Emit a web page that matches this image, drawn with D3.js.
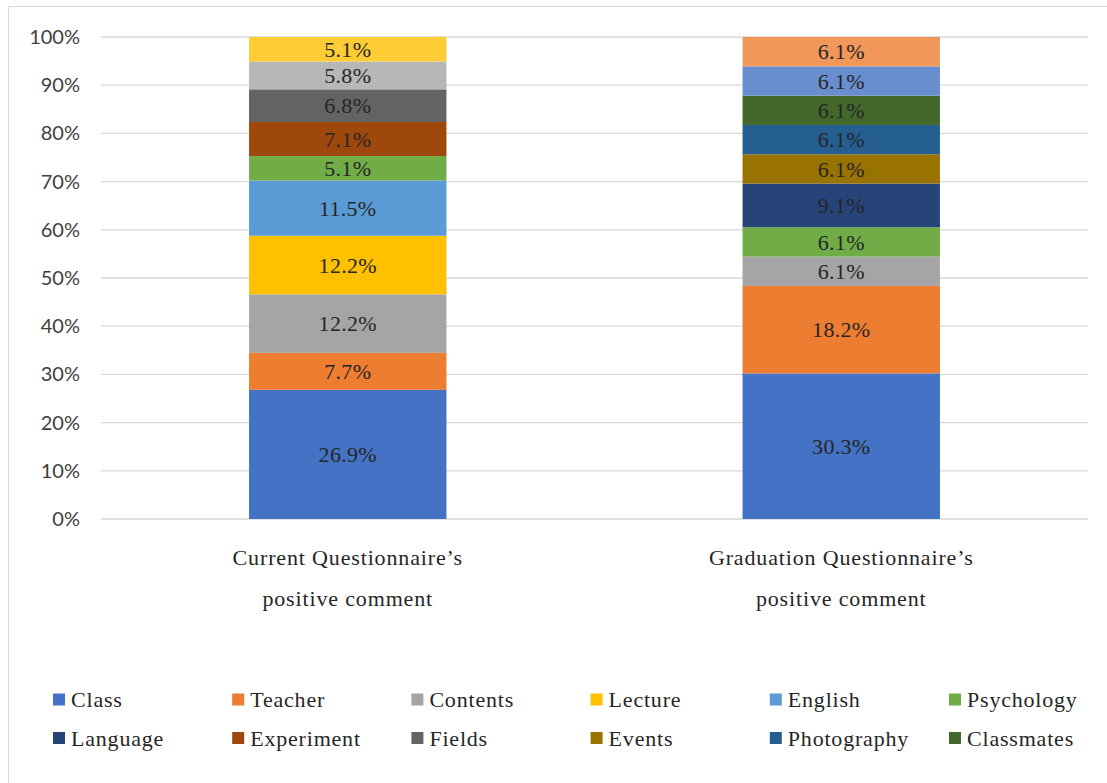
<!DOCTYPE html>
<html><head><meta charset="utf-8">
<script src="https://cdn.jsdelivr.net/npm/d3@7"></script>
<style>body{margin:0;background:#fff;} svg{display:block;}</style>
</head><body>
<svg id="chart" width="1107" height="783"></svg>
<script>
const categories = [["Current Questionnaire\u2019s","positive comment"],["Graduation Questionnaire\u2019s","positive comment"]];
const seriesNames = ["Class","Teacher","Contents","Lecture","English","Psychology","Language","Experiment","Fields","Events","Photography","Classmates","Series13","Series14","Series15","Series16"];
const seriesColors = ["#4472C4","#ED7D31","#A5A5A5","#FFC000","#5B9BD5","#70AD47","#264478","#9E480E","#636363","#997300","#255E91","#43682B","#698ED0","#F1975A","#B7B7B7","#FFCD33"];
const currentValues    = [26.9,7.7,12.2,12.2,11.5,5.1,0,7.1,6.8,0,0,0,0,0,5.8,5.1];
const graduationValues = [30.3,18.2,6.1,0,0,6.1,9.1,0,0,6.1,6.1,6.1,6.1,6.1,0,0];
const yTicks = [0,10,20,30,40,50,60,70,80,90,100];
const legendCount = 12;

const svg = d3.select("#chart");
const serif = "'Liberation Serif','DejaVu Serif',serif";
const sans = "Lato,'Liberation Sans',sans-serif";

// chart border
svg.append("rect").attr("x",8.5).attr("y",6.5).attr("width",1120).attr("height",800)
  .attr("fill","none").attr("stroke","#d9d9d9").attr("stroke-width",1);

const x = d3.scaleBand().domain([0,1]).range([101,1088]).paddingInner(0.6).paddingOuter(0.3);
const y = d3.scaleLinear().domain([0,100]).range([519,37]);

// gridlines
svg.append("g").selectAll("line").data(yTicks).join("line")
  .attr("x1",101).attr("x2",1088).attr("y1",d=>y(d)).attr("y2",d=>y(d))
  .attr("stroke","#d9d9d9").attr("stroke-width",1.3);

// y axis labels
svg.append("g").selectAll("text").data(yTicks).join("text")
  .attr("x",80).attr("y",d=>y(d)).attr("dy","0.35em").attr("text-anchor","end")
  .attr("font-family",sans).attr("font-size",20).attr("fill","#404040").text(d=>d+"%");

const data = [currentValues, graduationValues];
data.forEach((vals,ci)=>{
  const total = d3.sum(vals);
  let acc = 0;
  const segs = vals.map((v,i)=>{const s={i,v,y0:acc/total*100,y1:(acc+v)/total*100}; acc+=v; return s;}).filter(s=>s.v>0);
  const g = svg.append("g");
  g.selectAll("rect").data(segs).join("rect")
    .attr("x",x(ci)).attr("width",x.bandwidth())
    .attr("y",d=>y(Math.min(d.y1,100))).attr("height",d=>y(d.y0)-y(Math.min(d.y1,100)))
    .attr("fill",d=>seriesColors[d.i]);
  g.selectAll("text").data(segs).join("text")
    .attr("x",x(ci)+x.bandwidth()/2).attr("y",d=>(y(d.y0)+y(Math.min(d.y1,100)))/2)
    .attr("dy","0.35em").attr("text-anchor","middle")
    .attr("font-family",serif).attr("font-size",22).attr("letter-spacing",0.3).attr("fill","#262626")
    .text(d=>d.v.toFixed(1)+"%");
});

// category labels
categories.forEach((lines,ci)=>{
  lines.forEach((t,li)=>{
    svg.append("text").attr("x",x(ci)+x.bandwidth()/2).attr("y",557+li*41).attr("dy","0.35em")
      .attr("text-anchor","middle").attr("font-family",serif).attr("font-size",22)
      .attr("fill","#262626").attr("letter-spacing",0.85).text(t);
  });
});

// legend
const leg = svg.append("g");
d3.range(legendCount).forEach(i=>{
  const col=i%6, row=Math.floor(i/6);
  const lx = 53+col*179.2, ly = 699.5+row*38.5;
  leg.append("rect").attr("x",lx).attr("y",ly-6).attr("width",12).attr("height",12).attr("fill",seriesColors[i]);
  leg.append("text").attr("x",lx+18).attr("y",ly).attr("dy","0.35em")
    .attr("font-family",serif).attr("font-size",22).attr("letter-spacing",0.8).attr("fill","#262626").text(seriesNames[i]);
});
</script>
</body></html>
